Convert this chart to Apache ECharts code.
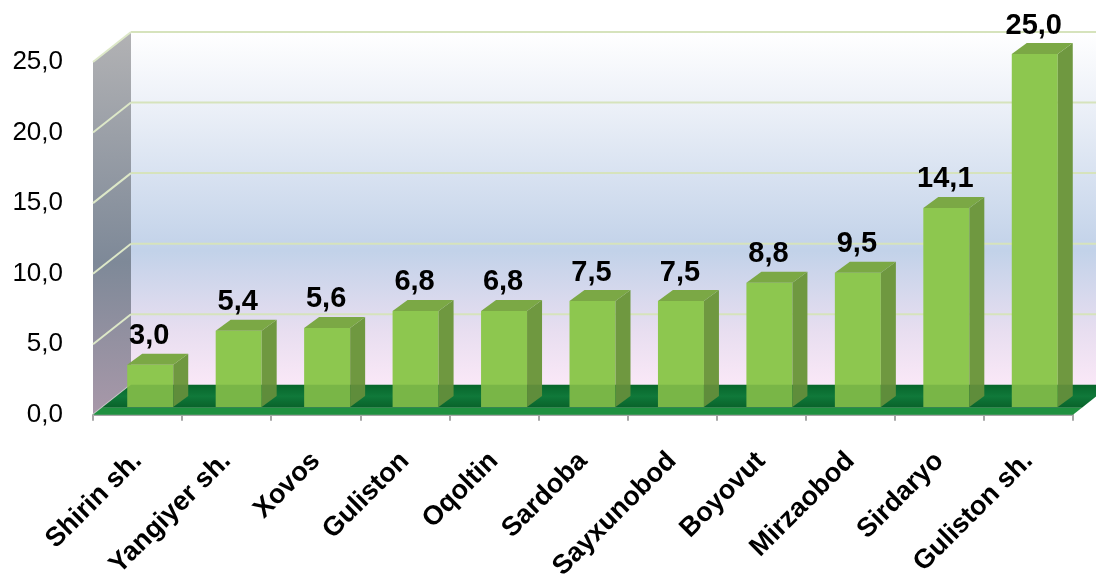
<!DOCTYPE html>
<html>
<head>
<meta charset="utf-8">
<script src="https://cdn.jsdelivr.net/npm/echarts@6/dist/echarts.min.js"></script>
<style>html,body{margin:0;padding:0;background:#fff;}#chart{width:1096px;height:583px;}</style>
</head>
<body>
<div id="chart"></div>
<script>
const categories = ['Shirin sh.', 'Yangiyer sh.', 'Xovos', 'Guliston', 'Oqoltin', 'Sardoba', 'Sayxunobod', 'Boyovut', 'Mirzaobod', 'Sirdaryo', 'Guliston sh.'];
const values = [3.0, 5.4, 5.6, 6.8, 6.8, 7.5, 7.5, 8.8, 9.5, 14.1, 25.0];
const yTicks = [0, 5, 10, 15, 20, 25];

const fmt = v => Number(v).toFixed(1).replace('.', ',');
const FONT = '"Liberation Sans", Arial, sans-serif';
const DX = 38, DY = -30;      // wall depth
const BDX = 15, BDY = -11;    // bar depth
const FT = 7;                 // floor thickness

const chart = echarts.init(document.getElementById('chart'), null, {renderer: 'canvas'});

function wallsRender(params, api) {
  const cs = params.coordSys;
  const x0 = cs.x, x1 = cs.x + cs.width, yb = cs.y + cs.height, yt = cs.y;
  const children = [];
  children.push({type: 'rect', shape: {x: x0 + DX, y: yt + DY, width: cs.width, height: cs.height},
    style: {fill: new echarts.graphic.LinearGradient(0, 0, 0, 1, [
      {offset: 0, color: '#FFFFFF'}, {offset: 0.2, color: '#EDF1F8'}, {offset: 0.62, color: '#C2D2E9'},
      {offset: 0.85, color: '#E8DEF0'}, {offset: 1, color: '#FAE8F7'}])}});
  children.push({type: 'polygon', shape: {points: [[x0, yt], [x0 + DX, yt + DY], [x0 + DX, yb + DY], [x0, yb]]},
    style: {fill: new echarts.graphic.LinearGradient(0, 0, 0, 1, [
      {offset: 0, color: '#B2B2B4'}, {offset: 0.6, color: '#7E8998'}, {offset: 1, color: '#A898A9'}])}});
  yTicks.forEach(v => {
    const y = api.coord([0, v])[1];
    if (v > 0) {
      children.push({type: 'line', shape: {x1: x0 + DX, y1: y + DY, x2: x1 + DX, y2: y + DY}, style: {stroke: '#D6E3BC', lineWidth: 2}});
    }
    children.push({type: 'line', shape: {x1: x0, y1: y, x2: x0 + DX, y2: y + DY}, style: {stroke: v > 0 ? '#DDE8C8' : '#C8C8C8', lineWidth: 2}});
  });
  const fx = FT * DX / -DY;
  children.push({type: 'polygon', shape: {points: [[x0 + fx, yb - FT], [x1 + fx, yb - FT], [x1 + DX, yb + DY], [x0 + DX, yb + DY]]},
    style: {fill: new echarts.graphic.LinearGradient(0, 0, 0, 1, [
      {offset: 0, color: '#0A6A2E'}, {offset: 0.5, color: '#13803F'}, {offset: 1, color: '#0A662C'}])}});
  children.push({type: 'polygon', shape: {points: [[x0, yb], [x0 + fx, yb - FT], [x1 + fx, yb - FT], [x1, yb]]},
    style: {fill: '#1F9140'}});
  return {type: 'group', children};
}

function floorOverlayRender(params, api) {
  const cs = params.coordSys;
  const x0 = cs.x, x1 = cs.x + cs.width, yb = cs.y + cs.height;
  const fx = FT * DX / -DY;
  return {type: 'polygon', shape: {points: [[x0 + fx, yb - FT], [x1 + fx, yb - FT], [x1 + DX, yb + DY], [x0 + DX, yb + DY]]},
    style: {fill: 'rgba(0,80,30,0.14)'}};
}

function barRender(params, api) {
  const i = api.value(0), v = api.value(1);
  const top = api.coord([i, v]);
  const base = api.coord([i, 0]);
  const bw = api.size([1, 0])[0] * 0.52;
  const xl = top[0] - bw / 2, xr = top[0] + bw / 2;
  const yt = top[1], yb = base[1];
  return {type: 'group', children: [
    {type: 'rect', shape: {x: xl, y: yt, width: bw, height: yb - yt}, style: {fill: '#8DC74F'}},
    {type: 'polygon', shape: {points: [[xr, yt], [xr + BDX, yt + BDY], [xr + BDX, yb + BDY], [xr, yb]]}, style: {fill: '#6F9840'}},
    {type: 'polygon', shape: {points: [[xl, yt], [xl + BDX, yt + BDY], [xr + BDX, yt + BDY], [xr, yt]]}, style: {fill: '#7BA845'}},
    {type: 'text', style: {text: fmt(v), x: top[0] - 1, y: yt + BDY - 3, align: 'center', verticalAlign: 'bottom',
      font: 'bold 29px ' + FONT, fill: '#000'}}
  ]};
}

const option = {
  animation: false,
  backgroundColor: '#FFFFFF',
  textStyle: {fontFamily: FONT},
  grid: [
    {left: 93, right: 23, top: 62, bottom: 168},
    {left: 106, right: 17, top: 54, bottom: 176}
  ],
  xAxis: [
    {type: 'category', gridIndex: 0, data: categories,
      axisLine: {lineStyle: {color: '#A6A6A6', width: 2}},
      axisTick: {show: true, length: 6, lineStyle: {color: '#A6A6A6', width: 2}},
      axisLabel: {interval: 0, rotate: 45, margin: 42, fontSize: 27, fontWeight: 'bold', color: '#000', fontFamily: FONT},
      splitLine: {show: false}},
    {type: 'category', gridIndex: 1, data: categories, show: false}
  ],
  yAxis: [
    {type: 'value', gridIndex: 0, min: 0, max: 25, interval: 5,
      axisLine: {show: false}, axisTick: {show: false}, splitLine: {show: false},
      axisLabel: {formatter: v => fmt(v), fontSize: 26, color: '#000', margin: 30, padding: [6, 0, 0, 0], fontFamily: FONT}},
    {type: 'value', gridIndex: 1, min: 0, max: 25, interval: 5, show: false, splitLine: {show: false}}
  ],
  series: [
    {type: 'custom', name: 'walls', xAxisIndex: 0, yAxisIndex: 0, z: 1, silent: true,
      data: [[0, 0]], renderItem: wallsRender},
    {type: 'custom', name: 'bars', xAxisIndex: 1, yAxisIndex: 1, z: 2,
      data: values.map((v, i) => [i, v]), renderItem: barRender},
    {type: 'custom', name: 'floorOverlay', xAxisIndex: 0, yAxisIndex: 0, z: 3, silent: true,
      data: [[0, 0]], renderItem: floorOverlayRender}
  ]
};
chart.setOption(option);
</script>
</body>
</html>
